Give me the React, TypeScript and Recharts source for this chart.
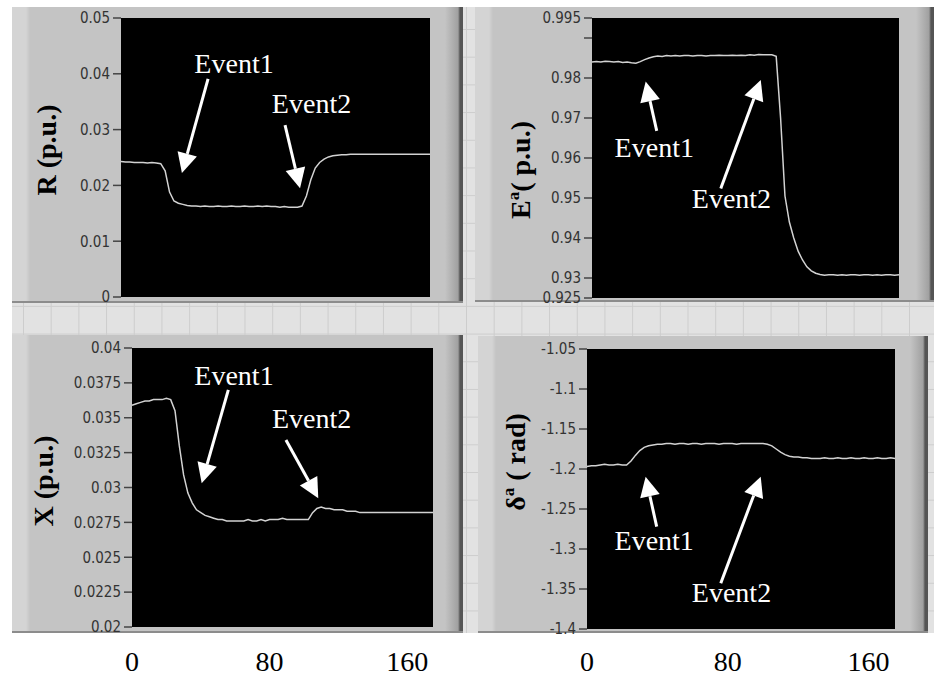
import {
	CartesianGrid,
	Line,
	LineChart,
	ReferenceDot,
	ReferenceLine,
	XAxis,
	YAxis
} from 'recharts'

// time axis (s), shared by all four traces
const time = [
	0, 2.5, 5, 7.5, 10, 12.5, 15, 17.5, 20, 22.5,
	25, 27.5, 30, 32.5, 35, 37.5, 40, 42.5, 45, 47.5,
	50, 52.5, 55, 57.5, 60, 62.5, 65, 67.5, 70, 72.5,
	75, 77.5, 80, 82.5, 85, 87.5, 90, 92.5, 95, 97.5,
	100, 102.5, 105, 107.5, 110, 112.5, 115, 117.5, 120, 122.5,
	125, 127.5, 130, 132.5, 135, 137.5, 140, 142.5, 145, 147.5,
	150, 152.5, 155, 157.5, 160, 162.5, 165, 167.5, 170, 172.5,
	175
]

const rValues = [
	0.0243, 0.0242, 0.0242, 0.0241, 0.0241, 0.0241, 0.024, 0.0241, 0.024, 0.0239,
	0.0226, 0.0188, 0.0172, 0.0168, 0.0166, 0.0164, 0.0163, 0.0163, 0.0162, 0.0163,
	0.0162, 0.0162, 0.0163, 0.0162, 0.0162, 0.0163, 0.0162, 0.0162, 0.0163, 0.0162,
	0.0162, 0.0163, 0.0162, 0.0163, 0.0162, 0.0162, 0.0161, 0.0162, 0.0161, 0.0161,
	0.0161, 0.0163, 0.0181, 0.021, 0.0231, 0.0241, 0.0247, 0.0251, 0.0253, 0.0254,
	0.0255, 0.0255, 0.0256, 0.0256, 0.0256, 0.0256, 0.0256, 0.0256, 0.0256, 0.0256,
	0.0256, 0.0256, 0.0256, 0.0256, 0.0256, 0.0256, 0.0256, 0.0256, 0.0256, 0.0256,
	0.0256
]

const eValues = [
	0.984, 0.9841, 0.984, 0.9842, 0.9841, 0.984, 0.9841, 0.9839, 0.984, 0.9838,
	0.9837, 0.9841, 0.9846, 0.985, 0.9853, 0.9855, 0.9854, 0.9856, 0.9855, 0.9856,
	0.9855, 0.9856, 0.9856, 0.9855, 0.9856, 0.9856, 0.9855, 0.9856, 0.9856, 0.9857,
	0.9856, 0.9856, 0.9857, 0.9856, 0.9857, 0.9856, 0.9858, 0.9857, 0.9859, 0.9858,
	0.9858, 0.9858, 0.9854, 0.97, 0.9505, 0.944, 0.94, 0.9367, 0.9345, 0.9328,
	0.9318, 0.9312, 0.9309, 0.9307, 0.9308, 0.9308, 0.9307, 0.9308, 0.9307, 0.9308,
	0.9308, 0.9307, 0.9308, 0.9308, 0.9307, 0.9308, 0.9307, 0.9308, 0.9308, 0.9307,
	0.9308
]

const xValues = [
	0.0359, 0.036, 0.0361, 0.0362, 0.0362, 0.0363, 0.0363, 0.0363, 0.0364, 0.0363,
	0.0355, 0.033, 0.0309, 0.0296, 0.0289, 0.0284, 0.0282, 0.028, 0.0279, 0.0278,
	0.0277, 0.0277, 0.0276, 0.0276, 0.0276, 0.0276, 0.0276, 0.0277, 0.0276, 0.0276,
	0.0277, 0.0276, 0.0277, 0.0277, 0.0277, 0.0278, 0.0277, 0.0277, 0.0277, 0.0277,
	0.0277, 0.0277, 0.0282, 0.0285, 0.0286, 0.0285, 0.0285, 0.0284, 0.0284, 0.0284,
	0.0283, 0.0283, 0.0283, 0.0282, 0.0282, 0.0282, 0.0282, 0.0282, 0.0282, 0.0282,
	0.0282, 0.0282, 0.0282, 0.0282, 0.0282, 0.0282, 0.0282, 0.0282, 0.0282, 0.0282,
	0.0282
]

const deltaValues = [
	-1.197, -1.196, -1.196, -1.195, -1.194, -1.195, -1.195, -1.194, -1.195, -1.195,
	-1.19, -1.183, -1.177, -1.173, -1.171, -1.17, -1.169, -1.169, -1.168, -1.168,
	-1.169, -1.168, -1.168, -1.169, -1.168, -1.168, -1.169, -1.168, -1.168, -1.168,
	-1.169, -1.168, -1.168, -1.168, -1.169, -1.168, -1.168, -1.168, -1.168, -1.168,
	-1.168, -1.169, -1.171, -1.175, -1.179, -1.182, -1.184, -1.185, -1.185, -1.186,
	-1.186, -1.187, -1.187, -1.187, -1.186, -1.187, -1.187, -1.186, -1.187, -1.187,
	-1.186, -1.187, -1.187, -1.186, -1.187, -1.187, -1.186, -1.187, -1.187, -1.186,
	-1.187
]

const xTicks = [0, 80, 160]
const rTicks = [0, 0.01, 0.02, 0.03, 0.04, 0.05]
const eTicks = [0.925, 0.93, 0.94, 0.95, 0.96, 0.97, 0.98, 0.99, 0.995]
const xpuTicks = [0.02, 0.0225, 0.025, 0.0275, 0.03, 0.0325, 0.035, 0.0375, 0.04]
const deltaTicks = [-1.4, -1.35, -1.3, -1.25, -1.2, -1.15, -1.1, -1.05]

// event annotations, in data units: label baseline centre, arrow tail -> tip
type Note = { text: string; x: number; y: number }
type Arrow = { x1: number; y1: number; x2: number; y2: number }

const rNotes: Note[] = [
	{ text: 'Event1', x: 64, y: 0.0401 },
	{ text: 'Event2', x: 107.9, y: 0.033 }
]
const rArrows: Arrow[] = [
	{ x1: 49.3, y1: 0.0391, x2: 34.5, y2: 0.0222 },
	{ x1: 92.9, y1: 0.0308, x2: 101.4, y2: 0.0195 }
]
const eNotes: Note[] = [
	{ text: 'Event1', x: 35.5, y: 0.9603 },
	{ text: 'Event2', x: 79.5, y: 0.9474 }
]
const eArrows: Arrow[] = [
	{ x1: 36.9, y1: 0.9668, x2: 30.6, y2: 0.9791 },
	{ x1: 73.4, y1: 0.9524, x2: 96.2, y2: 0.9795 }
]
const xNotes: Note[] = [
	{ text: 'Event1', x: 59.3, y: 0.03735 },
	{ text: 'Event2', x: 104.4, y: 0.03424 }
]
const xArrows: Arrow[] = [
	{ x1: 56, y1: 0.037, x2: 40.5, y2: 0.0303 },
	{ x1: 89.5, y1: 0.0334, x2: 108.3, y2: 0.02923 }
]
const dNotes: Note[] = [
	{ text: 'Event1', x: 38.2, y: -1.3013 },
	{ text: 'Event2', x: 82.1, y: -1.3659 }
]
const dArrows: Arrow[] = [
	{ x1: 39.6, y1: -1.2721, x2: 33.3, y2: -1.2096 },
	{ x1: 76, y1: -1.3429, x2: 98.7, y2: -1.2096 }
]

const data = time.map((t, i) => ({
	t,
	r: rValues[i],
	e: eValues[i],
	x: xValues[i],
	d: deltaValues[i]
}))

const SERIF = "'Liberation Serif', 'Times New Roman', serif"
const TICK_FONT = "'DejaVu Sans Condensed', 'Liberation Sans Narrow', 'DejaVu Sans', sans-serif"

const ArrowShape = (p: any) => {
	const { x1, y1, x2, y2 } = p
	const dx = x2 - x1
	const dy = y2 - y1
	const len = Math.hypot(dx, dy) || 1
	const ux = dx / len
	const uy = dy / len
	const head = 20
	const half = 10
	const bx = x2 - ux * head
	const by = y2 - uy * head
	const pts = `${x2},${y2} ${bx - uy * half},${by + ux * half} ${bx + uy * half},${by - ux * half}`
	return (
		<g>
			<line x1={x1} y1={y1} x2={bx} y2={by} stroke='#fff' strokeWidth={3} />
			<polygon points={pts} fill='#fff' />
		</g>
	)
}

const NoteShape = (text: string) => (p: any) =>
	(
		<text x={p.cx} y={p.cy} textAnchor='middle' fill='#fff' fontSize={28} fontFamily={SERIF}>
			{text}
		</text>
	)

type Title = { x: number; y: number; main: string; sup?: string; rest: string }

const titleLabel = (t: Title) => () =>
	(
		<text
			x={t.x}
			y={t.y}
			transform={`rotate(-90 ${t.x} ${t.y})`}
			textAnchor='middle'
			fontFamily={SERIF}
			fontWeight='bold'
			fontSize={28}
			fill='#000'
		>
			{t.main}
			{t.sup ? (
				<>
					<tspan dy={-11} fontSize={17}>
						{t.sup}
					</tspan>
					<tspan dy={11}>{t.rest}</tspan>
				</>
			) : (
				t.rest
			)}
		</text>
	)

type PanelCfg = {
	key: string
	left: number
	top: number
	height: number
	margin: { top: number; right: number; bottom: number; left: number }
	yWidth: number
	xHeight: number
	showX: boolean
	xMargin: number
	domain: [number, number]
	ticks: number[]
	fmt: (v: number) => string
	title: Title
	notes: Note[]
	arrows: Arrow[]
}

const panels: PanelCfg[] = [
	{
		key: 'r',
		left: 0,
		top: 0,
		height: 320,
		margin: { top: 18, right: 37, bottom: 23, left: 0 },
		yWidth: 121,
		xHeight: 0,
		showX: false,
		xMargin: 0,
		domain: [0, 0.05],
		ticks: rTicks,
		fmt: (v) => (v === 0 ? '0' : String(v)),
		title: { x: 56, y: 150, main: 'R', rest: ' (p.u.)' },
		notes: rNotes,
		arrows: rArrows
	},
	{
		key: 'e',
		left: 467,
		top: 0,
		height: 320,
		margin: { top: 18, right: 35, bottom: 22, left: 0 },
		yWidth: 125,
		xHeight: 0,
		showX: false,
		xMargin: 0,
		domain: [0.925, 0.995],
		ticks: eTicks,
		fmt: (v) => (v === 0.99 ? '' : String(v)),
		title: { x: 63, y: 170, main: 'E', sup: 'a', rest: '( p.u.)' },
		notes: eNotes,
		arrows: eArrows
	},
	{
		key: 'x',
		left: 0,
		top: 303,
		height: 373,
		margin: { top: 45, right: 34, bottom: 0, left: 0 },
		yWidth: 132,
		xHeight: 49,
		showX: true,
		xMargin: 24,
		domain: [0.02, 0.04],
		ticks: xpuTicks,
		fmt: (v) => String(v),
		title: { x: 53, y: 178, main: 'X', rest: ' (p.u.)' },
		notes: xNotes,
		arrows: xArrows
	},
	{
		key: 'd',
		left: 467,
		top: 303,
		height: 373,
		margin: { top: 46, right: 39, bottom: 0, left: 0 },
		yWidth: 120,
		xHeight: 47,
		showX: true,
		xMargin: 22,
		domain: [-1.4, -1.05],
		ticks: deltaTicks,
		fmt: (v) => String(v),
		title: { x: 58, y: 159, main: 'δ', sup: 'a', rest: ' ( rad)' },
		notes: dNotes,
		arrows: dArrows
	}
]

// LabVIEW-style grey frames behind each graph
const frames = [
	{ left: 12, top: 7, width: 451, height: 296 },
	{ left: 475, top: 7, width: 459, height: 295 },
	{ left: 12, top: 335, width: 451, height: 298 },
	{ left: 478, top: 336, width: 450, height: 297 }
]

const frameStyle = (f: { left: number; top: number; width: number; height: number }) => ({
	position: 'absolute' as const,
	left: f.left,
	top: f.top,
	width: f.width,
	height: f.height,
	boxSizing: 'border-box' as const,
	borderBottom: '2px solid #8c8c8c',
	background:
		'linear-gradient(90deg, #d4d4d4 0px, #d4d4d4 14px, #c4c4c4 18px, #c4c4c4 calc(100% - 18px), #a0a0a0 calc(100% - 5px), #555 calc(100% - 3px), #555 100%)'
})

export default function App() {
	return (
		<div
			style={{
				position: 'absolute',
				left: 0,
				top: 0,
				width: 934,
				height: 676,
				background: '#fff',
				overflow: 'hidden'
			}}
		>
			<div
				style={{
					position: 'absolute',
					left: 12,
					top: 7,
					width: 922,
					height: 626,
					backgroundColor: '#e2e2e2',
					backgroundImage:
						'linear-gradient(90deg, #cdcdcd 1px, transparent 1px), linear-gradient(180deg, #cdcdcd 1px, transparent 1px)',
					backgroundSize: '27.7px 27.7px',
					backgroundPosition: '11px 22px'
				}}
			/>
			{frames.map((f, i) => (
				<div key={i} style={frameStyle(f)} />
			))}
			{panels.map((p) => (
				<div key={p.key} style={{ position: 'absolute', left: p.left, top: p.top }}>
					<LineChart width={467} height={p.height} data={data} margin={p.margin}>
						<CartesianGrid fill='#000' horizontal={false} vertical={false} stroke='none' />
						<XAxis
							dataKey='t'
							type='number'
							domain={[0, 175]}
							ticks={xTicks}
							hide={!p.showX}
							height={p.xHeight}
							axisLine={false}
							tickLine={false}
							tickSize={0}
							tickMargin={p.xMargin}
							interval={0}
							tick={{ fill: '#000', fontSize: 28, fontFamily: SERIF }}
						/>
						<YAxis
							type='number'
							domain={p.domain}
							ticks={p.ticks}
							allowDataOverflow
							interval={0}
							width={p.yWidth}
							axisLine={false}
							tickSize={8}
							tickMargin={3}
							tickLine={{ stroke: '#444', strokeWidth: 1.5 }}
							tickFormatter={p.fmt}
							tick={{ fill: '#333', fontSize: 15, fontFamily: TICK_FONT }}
							label={titleLabel(p.title)}
						/>
						<Line
							type='linear'
							dataKey={p.key}
							stroke='#d2d2d2'
							strokeWidth={1.5}
							dot={false}
							isAnimationActive={false}
						/>
						{p.arrows.map((a, i) => (
							<ReferenceLine
								key={'a' + i}
								segment={[
									{ x: a.x1, y: a.y1 },
									{ x: a.x2, y: a.y2 }
								]}
								shape={ArrowShape}
							/>
						))}
						{p.notes.map((n, i) => (
							<ReferenceDot key={'n' + i} x={n.x} y={n.y} r={0} shape={NoteShape(n.text)} />
						))}
					</LineChart>
				</div>
			))}
		</div>
	)
}
